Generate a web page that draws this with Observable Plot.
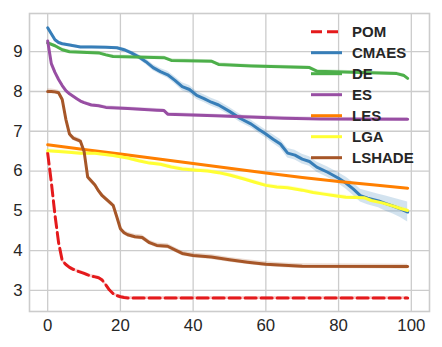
<!DOCTYPE html>
<html><head><meta charset="utf-8">
<script src="https://cdn.jsdelivr.net/npm/d3@7"></script>
<script src="https://cdn.jsdelivr.net/npm/@observablehq/plot@0.6"></script>
<style>
html,body{margin:0;padding:0;background:#fff;}
#wrap{position:relative;width:442px;height:347px;font-family:"Liberation Sans",Arial,sans-serif;}
#legend{position:absolute;left:0;top:0;pointer-events:none;}
</style></head>
<body><div id="wrap"></div>
<script>
const names = ["POM","CMAES","DE","ES","LES","LGA","LSHADE"];
const colors = ["#e41a1c","#377eb8","#4daf4a","#984ea3","#ff7f00","#ffff33","#a65628"];
const xTicks = [0,20,40,60,80,100];
const yTicks = [3,4,5,6,7,8,9];

const pomX = [0,1,2,3,4,5,6,7,8,9,10,11,12,13,14,15,16,17,18,19,20,21,22,99];
const pomY = [6.45,5.72,4.9,4.2,3.75,3.65,3.58,3.53,3.49,3.46,3.43,3.39,3.36,3.34,3.32,3.26,3.14,3.01,2.92,2.87,2.84,2.82,2.81,2.81];
const pomSd = 0.04;

const cmaesX = [0,1,2,3,4,6,9,12,16,19,21,23,25,27,29,31,33,35,37,39,41,43,45,47,50,53,56,58,60,62,64,66,68,70,72,74,77,80,82,84,86,88,91,93,95,97,99];
const cmaesY = [9.6,9.45,9.3,9.23,9.2,9.17,9.12,9.12,9.11,9.1,9.05,8.97,8.87,8.75,8.6,8.5,8.42,8.28,8.12,8.05,7.9,7.82,7.73,7.66,7.5,7.32,7.18,7.05,6.93,6.8,6.68,6.45,6.4,6.3,6.24,6.1,5.97,5.82,5.7,5.55,5.38,5.32,5.25,5.18,5.12,5.05,4.97];
const cmaesSd = [0.03,0.03,0.03,0.03,0.03,0.03,0.03,0.03,0.03,0.03,0.04,0.05,0.06,0.07,0.08,0.08,0.09,0.09,0.1,0.1,0.1,0.1,0.1,0.1,0.1,0.1,0.1,0.1,0.1,0.11,0.11,0.12,0.12,0.12,0.12,0.13,0.13,0.14,0.15,0.16,0.16,0.17,0.17,0.19,0.2,0.22,0.25];

const deX = [0,2,4,6,14,16,18,32,34,45,47,56,64,72,74,96,98,99];
const deY = [9.22,9.15,9.05,9.0,8.97,8.92,8.88,8.85,8.78,8.76,8.68,8.64,8.62,8.6,8.51,8.45,8.4,8.33];
const deSd = 0.04;

const esX = [0,1,2,3,4,5,6,7,8,9,10,12,14,16,22,30,32,33,46,65,75,99];
const esY = [9.27,8.7,8.48,8.3,8.15,8.02,7.94,7.88,7.82,7.76,7.72,7.66,7.64,7.6,7.57,7.53,7.52,7.43,7.39,7.33,7.31,7.3];
const esSd = 0.04;

const lesX = [0,10,20,30,40,50,60,70,80,90,99];
const lesY = [6.66,6.54,6.43,6.31,6.19,6.07,5.95,5.84,5.74,5.65,5.57];
const lesSd = 0.01;

const lgaX = [0,5,9,13,18,22,25,28,31,34,37,41,44,47,50,54,57,60,63,66,70,73,76,79,82,87,89,92,95,97,99];
const lgaY = [6.51,6.48,6.45,6.45,6.39,6.33,6.26,6.2,6.17,6.1,6.05,6.02,6.0,5.96,5.9,5.8,5.72,5.64,5.6,5.58,5.52,5.46,5.42,5.38,5.34,5.33,5.26,5.2,5.12,5.06,5.01];
const lgaSd = 0.05;

const lsX = [0,1,2,3,4,5,6,7,8,9,10,11,12,13,14,15,16,17,18,19,20,21,22,24,26,28,30,33,35,37,40,45,50,55,60,65,70,99];
const lsY = [8.0,8.0,7.99,7.97,7.8,7.3,6.93,6.83,6.79,6.75,6.5,5.85,5.75,5.65,5.5,5.38,5.3,5.22,5.14,4.85,4.55,4.45,4.4,4.35,4.33,4.2,4.13,4.11,4.02,3.93,3.88,3.84,3.77,3.71,3.66,3.63,3.61,3.6];
const lsSd = 0.06;

const seriesX = [pomX,cmaesX,deX,esX,lesX,lgaX,lsX];
const seriesY = [pomY,cmaesY,deY,esY,lesY,lgaY,lsY];
const seriesSd = [pomSd,cmaesSd,deSd,esSd,lesSd,lgaSd,lsSd];

const rows = [];
names.forEach((n,i)=>{
  seriesX[i].forEach((x,j)=>{
    const sd = Array.isArray(seriesSd[i]) ? seriesSd[i][j] : seriesSd[i];
    rows.push({name:n, x, y:seriesY[i][j], lo:seriesY[i][j]-sd, hi:seriesY[i][j]+sd});
  });
});

const marks = [
  Plot.gridX(xTicks,{stroke:"#cccccc",strokeOpacity:1,strokeWidth:1.3}),
  Plot.gridY(yTicks,{stroke:"#cccccc",strokeOpacity:1,strokeWidth:1.3}),
  Plot.frame({stroke:"#cccccc",strokeWidth:1.6})
];
names.forEach((n,i)=>{
  const d = rows.filter(r=>r.name===n);
  marks.push(Plot.areaY(d,{x:"x",y1:"lo",y2:"hi",fill:colors[i],fillOpacity:0.22}));
});
names.forEach((n,i)=>{
  const d = rows.filter(r=>r.name===n);
  marks.push(Plot.lineY(d,{x:"x",y:"y",stroke:colors[i],strokeWidth:3,strokeLinejoin:"round",
    strokeDasharray: n==="POM" ? "11,5" : null}));
});
marks.push(Plot.axisX(xTicks,{tickSize:0,tickPadding:8,fill:"#262626",fontSize:16.8,label:null}));
marks.push(Plot.axisY(yTicks,{tickSize:0,tickPadding:7,fill:"#262626",fontSize:16.8,label:null}));

const chart = Plot.plot({
  width:442, height:347,
  marginLeft:29, marginRight:13, marginTop:13, marginBottom:36,
  style:{fontFamily:"'Liberation Sans', Arial, sans-serif", background:"#fff"},
  x:{domain:[-5,105], label:null},
  y:{domain:[2.47,9.96], label:null},
  marks
});
const wrap = document.getElementById("wrap");
wrap.appendChild(chart);

// legend overlay
const ns = "http://www.w3.org/2000/svg";
const lg = document.createElementNS(ns,"svg");
lg.setAttribute("id","legend");
lg.setAttribute("width",442); lg.setAttribute("height",347);
names.forEach((n,i)=>{
  const cy = 31.7 + i*21;
  const ln = document.createElementNS(ns,"line");
  ln.setAttribute("x1",311); ln.setAttribute("x2",342);
  ln.setAttribute("y1",cy); ln.setAttribute("y2",cy);
  ln.setAttribute("stroke",colors[i]); ln.setAttribute("stroke-width",3);
  if(n==="POM") ln.setAttribute("stroke-dasharray","11,5");
  lg.appendChild(ln);
  const t = document.createElementNS(ns,"text");
  t.setAttribute("x",352); t.setAttribute("y",cy);
  t.setAttribute("dy","0.36em");
  t.setAttribute("font-family","'Liberation Sans', Arial, sans-serif");
  t.setAttribute("font-weight","bold");
  t.setAttribute("font-size","15px");
  t.setAttribute("fill","#262626");
  t.textContent = n;
  lg.appendChild(t);
});
wrap.appendChild(lg);
</script></body></html>
